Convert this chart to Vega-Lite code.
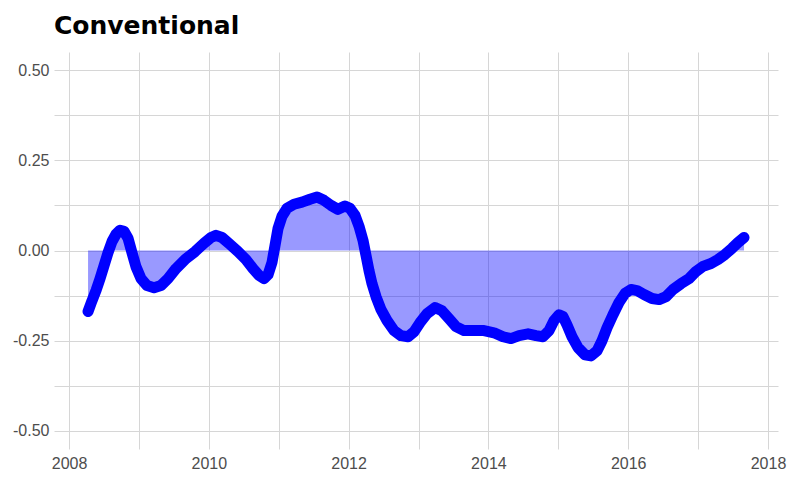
{
  "$schema": "https://vega.github.io/schema/vega-lite/v6.json",
  "width": 724,
  "height": 397,
  "autosize": {"type": "none"},
  "padding": {"left": 54, "top": 52, "right": 14, "bottom": 33},
  "background": "white",
  "title": {
    "text": "Conventional",
    "anchor": "start",
    "frame": "group",
    "font": "DejaVu Sans",
    "fontSize": 25,
    "fontWeight": "bold",
    "color": "#000000",
    "baseline": "alphabetic",
    "offset": 21,
    "dy": 28
  },
  "config": {
    "view": {"stroke": null},
    "axis": {
      "domain": false,
      "ticks": false,
      "grid": true,
      "gridColor": "#d6d6d6",
      "gridWidth": 1,
      "labelFont": "Liberation Sans",
      "labelFontSize": 16,
      "labelColor": "#4d4d4d",
      "title": null
    }
  },
  "data": {
    "values": [
      {"year": 2008.272, "value": -0.169},
      {"year": 2008.329, "value": -0.139},
      {"year": 2008.386, "value": -0.111},
      {"year": 2008.443, "value": -0.078},
      {"year": 2008.501, "value": -0.042},
      {"year": 2008.558, "value": -0.006},
      {"year": 2008.615, "value": 0.025},
      {"year": 2008.672, "value": 0.045},
      {"year": 2008.730, "value": 0.056},
      {"year": 2008.787, "value": 0.053},
      {"year": 2008.844, "value": 0.034},
      {"year": 2008.901, "value": -0.006},
      {"year": 2008.958, "value": -0.045},
      {"year": 2009.030, "value": -0.078},
      {"year": 2009.116, "value": -0.097},
      {"year": 2009.216, "value": -0.103},
      {"year": 2009.316, "value": -0.097},
      {"year": 2009.416, "value": -0.078},
      {"year": 2009.531, "value": -0.050},
      {"year": 2009.659, "value": -0.025},
      {"year": 2009.803, "value": -0.003},
      {"year": 2009.931, "value": 0.020},
      {"year": 2010.031, "value": 0.036},
      {"year": 2010.103, "value": 0.042},
      {"year": 2010.189, "value": 0.036},
      {"year": 2010.303, "value": 0.017},
      {"year": 2010.418, "value": -0.003},
      {"year": 2010.532, "value": -0.025},
      {"year": 2010.632, "value": -0.050},
      {"year": 2010.718, "value": -0.069},
      {"year": 2010.790, "value": -0.078},
      {"year": 2010.847, "value": -0.067},
      {"year": 2010.904, "value": -0.033},
      {"year": 2010.947, "value": 0.014},
      {"year": 2010.990, "value": 0.061},
      {"year": 2011.047, "value": 0.095},
      {"year": 2011.119, "value": 0.117},
      {"year": 2011.219, "value": 0.128},
      {"year": 2011.333, "value": 0.134},
      {"year": 2011.448, "value": 0.142},
      {"year": 2011.548, "value": 0.148},
      {"year": 2011.648, "value": 0.139},
      {"year": 2011.748, "value": 0.125},
      {"year": 2011.848, "value": 0.114},
      {"year": 2011.948, "value": 0.123},
      {"year": 2012.020, "value": 0.117},
      {"year": 2012.092, "value": 0.097},
      {"year": 2012.149, "value": 0.067},
      {"year": 2012.206, "value": 0.028},
      {"year": 2012.249, "value": -0.014},
      {"year": 2012.292, "value": -0.056},
      {"year": 2012.335, "value": -0.092},
      {"year": 2012.392, "value": -0.128},
      {"year": 2012.464, "value": -0.164},
      {"year": 2012.549, "value": -0.194},
      {"year": 2012.650, "value": -0.222},
      {"year": 2012.750, "value": -0.236},
      {"year": 2012.850, "value": -0.239},
      {"year": 2012.936, "value": -0.225},
      {"year": 2013.021, "value": -0.200},
      {"year": 2013.122, "value": -0.175},
      {"year": 2013.236, "value": -0.158},
      {"year": 2013.336, "value": -0.167},
      {"year": 2013.436, "value": -0.189},
      {"year": 2013.536, "value": -0.211},
      {"year": 2013.651, "value": -0.222},
      {"year": 2013.794, "value": -0.222},
      {"year": 2013.937, "value": -0.222},
      {"year": 2014.080, "value": -0.228},
      {"year": 2014.209, "value": -0.239},
      {"year": 2014.323, "value": -0.244},
      {"year": 2014.438, "value": -0.236},
      {"year": 2014.567, "value": -0.231},
      {"year": 2014.681, "value": -0.236},
      {"year": 2014.781, "value": -0.239},
      {"year": 2014.867, "value": -0.222},
      {"year": 2014.939, "value": -0.194},
      {"year": 2015.010, "value": -0.178},
      {"year": 2015.067, "value": -0.183},
      {"year": 2015.124, "value": -0.206},
      {"year": 2015.196, "value": -0.239},
      {"year": 2015.282, "value": -0.269},
      {"year": 2015.382, "value": -0.289},
      {"year": 2015.468, "value": -0.292},
      {"year": 2015.554, "value": -0.278},
      {"year": 2015.625, "value": -0.250},
      {"year": 2015.697, "value": -0.214},
      {"year": 2015.782, "value": -0.178},
      {"year": 2015.868, "value": -0.144},
      {"year": 2015.954, "value": -0.119},
      {"year": 2016.040, "value": -0.108},
      {"year": 2016.126, "value": -0.111},
      {"year": 2016.226, "value": -0.122},
      {"year": 2016.341, "value": -0.133},
      {"year": 2016.441, "value": -0.136},
      {"year": 2016.541, "value": -0.128},
      {"year": 2016.641, "value": -0.108},
      {"year": 2016.755, "value": -0.092},
      {"year": 2016.870, "value": -0.078},
      {"year": 2016.970, "value": -0.058},
      {"year": 2017.070, "value": -0.044},
      {"year": 2017.185, "value": -0.036},
      {"year": 2017.285, "value": -0.025},
      {"year": 2017.385, "value": -0.011},
      {"year": 2017.485, "value": 0.006},
      {"year": 2017.571, "value": 0.022},
      {"year": 2017.657, "value": 0.036}
    ]
  },
  "encoding": {
    "x": {
      "field": "year",
      "type": "quantitative",
      "scale": {"domain": [2007.785, 2018.143], "nice": false, "zero": false},
      "axis": {
        "values": [2008, 2009, 2010, 2011, 2012, 2013, 2014, 2015, 2016, 2017, 2018],
        "format": "d",
        "labelExpr": "datum.value % 2 == 0 ? datum.label : ''",
        "labelPadding": 6
      }
    },
    "y": {
      "field": "value",
      "type": "quantitative",
      "scale": {"domain": [-0.55, 0.55], "nice": false, "zero": false},
      "axis": {
        "values": [-0.5, -0.375, -0.25, -0.125, 0, 0.125, 0.25, 0.375, 0.5],
        "format": ".2f",
        "labelExpr": "abs(datum.value * 4 - round(datum.value * 4)) < 0.001 ? replace(datum.label, '\u2212', '-') : ''",
        "labelPadding": 5
      }
    }
  },
  "layer": [
    {
      "mark": {"type": "area", "color": "#0000ff", "opacity": 0.4},
      "encoding": {"y2": {"datum": 0}}
    },
    {
      "mark": {"type": "line", "color": "#0000ff", "strokeWidth": 11, "strokeCap": "round", "strokeJoin": "round"}
    }
  ]
}
